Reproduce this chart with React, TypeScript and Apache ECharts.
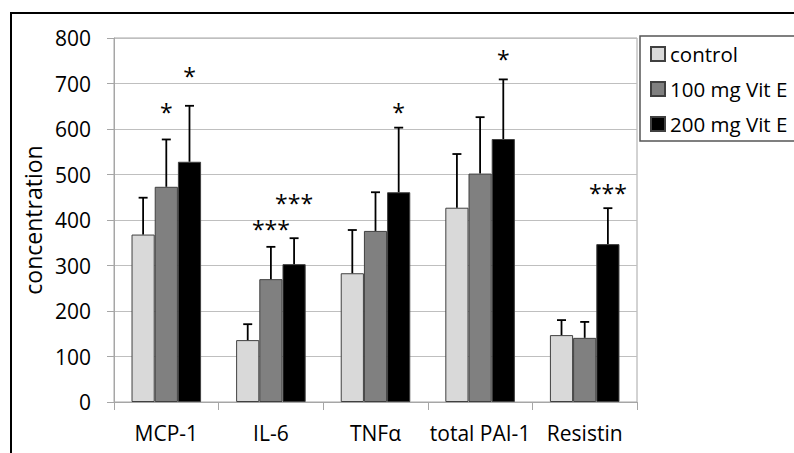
import React, { useEffect, useRef } from "react";
import * as echarts from "echarts";

const categories = ["MCP-1", "IL-6", "TNFα", "total PAI-1", "Resistin"];
const seriesNames = ["control", "100 mg Vit E", "200 mg Vit E"];
const control = [368, 136, 283, 427, 147];
const vitE100 = [473, 270, 376, 502, 141];
const vitE200 = [528, 303, 461, 578, 347];
const controlErr = [449, 171, 378, 545, 180];
const vitE100Err = [577, 341, 461, 626, 176];
const vitE200Err = [651, 360, 603, 709, 426];
const controlStars = ["", "", "", "", ""];
const vitE100Stars = ["*", "***", "", "", ""];
const vitE200Stars = ["*", "***", "*", "*", "***"];
const controlStarLevel = [-1, -1, -1, -1, -1];
const vitE100StarLevel = [648, 391, -1, -1, -1];
const vitE200StarLevel = [727, 449, 649, 764, 470];
const yTicks = { min: 0, max: 800, interval: 100 };

const FONT = "'Open Sans', sans-serif";
const colors = ["#d9d9d9", "#808080", "#000000"];
const CAT_GAP = 0.335;

function errSeries(
  k: number,
  vals: number[],
  errs: number[],
  stars: string[],
  levels: number[]
) {
  return {
    type: "custom",
    name: seriesNames[k] + " err",
    clip: false,
    z: 5,
    data: vals.map((v, i) => [i, v, errs[i], levels[i]]),
    renderItem: (params: any, api: any) => {
      const i = api.value(0);
      const v = api.value(1);
      const e = api.value(2);
      const lv = api.value(3);
      const c = api.coord([i, v]);
      const band = api.size([1, 0])[0];
      const group = band * (1 - CAT_GAP);
      const bw = group / 3;
      const x = c[0] - group / 2 + bw * (k + 0.5);
      const yTop = api.coord([i, e])[1];
      const lineStyle = { stroke: "#000", lineWidth: 1.8 };
      const children: any[] = [
        { type: "line", shape: { x1: x, y1: c[1], x2: x, y2: yTop }, style: lineStyle },
        { type: "line", shape: { x1: x - 4.5, y1: yTop, x2: x + 4.5, y2: yTop }, style: lineStyle },
      ];
      if (stars[i] && lv >= 0) {
        const ys = api.coord([i, lv])[1];
        children.push({
          type: "text",
          x: x,
          y: ys + 5,
          style: {
            text: stars[i],
            fontSize: 23,
            fontFamily: FONT,
            fill: "#000",
            align: "center",
            verticalAlign: "middle",
          },
        });
      }
      return { type: "group", children };
    },
  };
}

export default function App() {
  const ref = useRef<HTMLDivElement>(null);
  useEffect(() => {
    if (!ref.current) return;
    const chart = echarts.init(ref.current, undefined, { renderer: "svg" });
    const barSeries = [control, vitE100, vitE200].map((d, k) => ({
      type: "bar",
      name: seriesNames[k],
      data: d,
      barGap: "0%",
      barCategoryGap: CAT_GAP * 100 + "%",
      itemStyle: { color: colors[k], borderColor: "#404040", borderWidth: 1 },
    }));
    chart.setOption({
      animation: false,
      backgroundColor: "#fff",
      textStyle: { fontFamily: FONT },
      graphic: [
        {
          type: "rect",
          shape: { x: 11, y: 13, width: 900, height: 600 },
          style: { fill: "none", stroke: "#000", lineWidth: 2 },
          silent: true,
        },
      ],
      grid: {
        left: 114,
        right: 157,
        top: 38,
        bottom: 51,
        show: true,
        borderColor: "#a6a6a6",
        borderWidth: 1,
      },
      legend: {
        data: seriesNames,
        orient: "vertical",
        left: 640,
        top: 36,
        padding: [6, 10, 5, 10],
        itemGap: 11,
        itemWidth: 14,
        itemHeight: 14,
        icon: "rect",
        borderColor: "#555",
        borderWidth: 1.5,
        textStyle: { fontSize: 20.5, fontFamily: FONT, color: "#000", lineHeight: 24 },
      },
      xAxis: {
        type: "category",
        data: categories,
        axisLine: { lineStyle: { color: "#a6a6a6" } },
        axisTick: { show: true, length: 8, lineStyle: { color: "#a6a6a6" } },
        axisLabel: { interval: 0, fontSize: 21, fontFamily: FONT, color: "#000", margin: 20 },
      },
      yAxis: {
        type: "value",
        min: yTicks.min,
        max: yTicks.max,
        interval: yTicks.interval,
        name: "concentration",
        nameLocation: "middle",
        nameGap: 62,
        nameTextStyle: { fontSize: 23, fontFamily: FONT, color: "#000" },
        axisLine: { show: true, lineStyle: { color: "#a6a6a6" } },
        axisTick: { show: true, length: 7, lineStyle: { color: "#a6a6a6" } },
        axisLabel: { fontSize: 21, fontFamily: FONT, color: "#000", margin: 23 },
        splitLine: { lineStyle: { color: "#bfbfbf", width: 1 } },
      },
      series: [
        ...barSeries,
        errSeries(0, control, controlErr, controlStars, controlStarLevel),
        errSeries(1, vitE100, vitE100Err, vitE100Stars, vitE100StarLevel),
        errSeries(2, vitE200, vitE200Err, vitE200Stars, vitE200StarLevel),
      ],
    });
    return () => chart.dispose();
  }, []);
  return (
    <div
      ref={ref}
      style={{ position: "fixed", left: 0, top: 0, width: 794, height: 453, background: "#fff" }}
    />
  );
}
